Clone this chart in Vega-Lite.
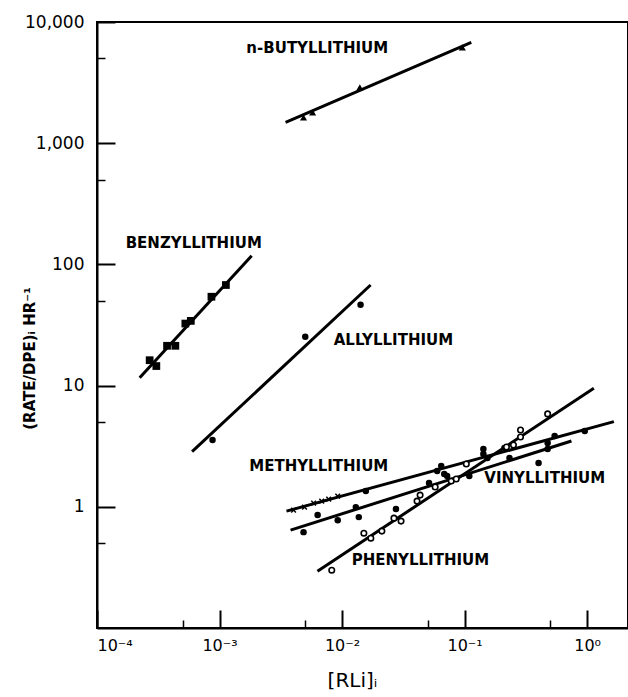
{
  "$schema": "https://vega.github.io/schema/vega-lite/v6.json",
  "width": 531,
  "height": 606,
  "autosize": "none",
  "padding": {"left": 97, "top": 22, "right": 0, "bottom": 69},
  "background": "white",
  "config": {
    "view": {"stroke": "black", "strokeWidth": 2},
    "axis": {"grid": false, "domainColor": "black", "tickColor": "black", "labelColor": "black", "titleColor": "black", "labelFont": "DejaVu Sans", "titleFont": "DejaVu Sans"}
  },
  "resolve": {"scale": {"x": "independent", "y": "independent"}, "axis": {"x": "independent", "y": "independent"}},
  "datasets": {
    "lines": [
      {"series": "butyl", "x": 0.00346, "y": 1486},
      {"series": "butyl", "x": 0.1135, "y": 6795},
      {"series": "benzyl", "x": 0.000223, "y": 11.6},
      {"series": "benzyl", "x": 0.00183, "y": 118},
      {"series": "allyl", "x": 0.000597, "y": 2.85},
      {"series": "allyl", "x": 0.0171, "y": 67.6},
      {"series": "methyl", "x": 0.00352, "y": 0.921},
      {"series": "methyl", "x": 1.654, "y": 5.04},
      {"series": "vinyl", "x": 0.0038, "y": 0.642},
      {"series": "vinyl", "x": 0.745, "y": 3.49},
      {"series": "phenyl", "x": 0.0063, "y": 0.294},
      {"series": "phenyl", "x": 1.135, "y": 9.52}
    ],
    "points": [
      {"series": "butyl", "marker": "triangle", "x": 0.00485, "y": 1630},
      {"series": "butyl", "marker": "triangle", "x": 0.00575, "y": 1795},
      {"series": "butyl", "marker": "triangle", "x": 0.01397, "y": 2885},
      {"series": "butyl", "marker": "triangle", "x": 0.0958, "y": 6180},
      {"series": "benzyl", "marker": "square", "x": 0.000269, "y": 16.2},
      {"series": "benzyl", "marker": "square", "x": 0.000305, "y": 14.5},
      {"series": "benzyl", "marker": "square", "x": 0.000373, "y": 21.3},
      {"series": "benzyl", "marker": "square", "x": 0.000436, "y": 21.3},
      {"series": "benzyl", "marker": "square", "x": 0.000526, "y": 32.5},
      {"series": "benzyl", "marker": "square", "x": 0.000583, "y": 34.2},
      {"series": "benzyl", "marker": "square", "x": 0.000859, "y": 54.1},
      {"series": "benzyl", "marker": "square", "x": 0.001127, "y": 67.6},
      {"series": "allyl", "marker": "dot", "x": 0.000877, "y": 3.56},
      {"series": "allyl", "marker": "dot", "x": 0.00501, "y": 25.3},
      {"series": "allyl", "marker": "dot", "x": 0.01416, "y": 46.5},
      {"series": "methyl", "marker": "cross", "x": 0.00402, "y": 0.939},
      {"series": "methyl", "marker": "cross", "x": 0.00494, "y": 0.994},
      {"series": "methyl", "marker": "cross", "x": 0.00586, "y": 1.073},
      {"series": "methyl", "marker": "cross", "x": 0.00682, "y": 1.115},
      {"series": "methyl", "marker": "cross", "x": 0.00778, "y": 1.158},
      {"series": "methyl", "marker": "cross", "x": 0.00922, "y": 1.226},
      {"series": "methyl", "marker": "dot", "x": 0.01564, "y": 1.348},
      {"series": "methyl", "marker": "dot", "x": 0.05975, "y": 1.973},
      {"series": "methyl", "marker": "dot", "x": 0.0645, "y": 2.17},
      {"series": "methyl", "marker": "dot", "x": 0.06823, "y": 1.863},
      {"series": "methyl", "marker": "dot", "x": 0.1424, "y": 2.999},
      {"series": "methyl", "marker": "dot", "x": 0.1424, "y": 2.726},
      {"series": "methyl", "marker": "dot", "x": 0.1535, "y": 2.526},
      {"series": "methyl", "marker": "dot", "x": 0.2115, "y": 3.055},
      {"series": "methyl", "marker": "dot", "x": 0.4764, "y": 3.36},
      {"series": "methyl", "marker": "dot", "x": 0.5433, "y": 3.84},
      {"series": "methyl", "marker": "dot", "x": 0.957, "y": 4.22},
      {"series": "vinyl", "marker": "dot", "x": 0.00485, "y": 0.618},
      {"series": "vinyl", "marker": "dot", "x": 0.00632, "y": 0.854},
      {"series": "vinyl", "marker": "dot", "x": 0.00922, "y": 0.776},
      {"series": "vinyl", "marker": "dot", "x": 0.01295, "y": 0.994},
      {"series": "vinyl", "marker": "dot", "x": 0.0137, "y": 0.822},
      {"series": "vinyl", "marker": "dot", "x": 0.02754, "y": 0.957},
      {"series": "vinyl", "marker": "dot", "x": 0.05129, "y": 1.57},
      {"series": "vinyl", "marker": "dot", "x": 0.07211, "y": 1.795},
      {"series": "vinyl", "marker": "dot", "x": 0.1093, "y": 1.795},
      {"series": "vinyl", "marker": "dot", "x": 0.2325, "y": 2.526},
      {"series": "vinyl", "marker": "dot", "x": 0.4018, "y": 2.297},
      {"series": "vinyl", "marker": "dot", "x": 0.4764, "y": 2.999},
      {"series": "phenyl", "marker": "open", "x": 0.00824, "y": 0.3},
      {"series": "phenyl", "marker": "open", "x": 0.01507, "y": 0.606},
      {"series": "phenyl", "marker": "open", "x": 0.01718, "y": 0.551},
      {"series": "phenyl", "marker": "open", "x": 0.02114, "y": 0.63},
      {"series": "phenyl", "marker": "open", "x": 0.02652, "y": 0.806},
      {"series": "phenyl", "marker": "open", "x": 0.0303, "y": 0.762},
      {"series": "phenyl", "marker": "open", "x": 0.04093, "y": 1.115},
      {"series": "phenyl", "marker": "open", "x": 0.04335, "y": 1.249},
      {"series": "phenyl", "marker": "open", "x": 0.05754, "y": 1.455},
      {"series": "phenyl", "marker": "open", "x": 0.07782, "y": 1.63},
      {"series": "phenyl", "marker": "open", "x": 0.0855, "y": 1.694},
      {"series": "phenyl", "marker": "open", "x": 0.1033, "y": 2.255},
      {"series": "phenyl", "marker": "open", "x": 0.2198, "y": 3.117},
      {"series": "phenyl", "marker": "open", "x": 0.2506, "y": 3.237},
      {"series": "phenyl", "marker": "open", "x": 0.2862, "y": 3.77},
      {"series": "phenyl", "marker": "open", "x": 0.2862, "y": 4.305},
      {"series": "phenyl", "marker": "open", "x": 0.4764, "y": 5.84}
    ],
    "labels": [
      {"text": "n-BUTYLLITHIUM", "x": 0.001656, "y": 6064},
      {"text": "BENZYLLITHIUM", "x": 0.0001714, "y": 151},
      {"text": "ALLYLLITHIUM", "x": 0.00855, "y": 23.7},
      {"text": "METHYLLITHIUM", "x": 0.00175, "y": 2.17},
      {"text": "VINYLLITHIUM", "x": 0.145, "y": 1.737},
      {"text": "PHENYLLITHIUM", "x": 0.012, "y": 0.3626}
    ]
  },
  "layer": [
    {
      "data": {"name": "lines"},
      "mark": {"type": "line", "color": "black", "strokeWidth": 3},
      "encoding": {
        "x": {
          "field": "x", "type": "quantitative",
          "scale": {"type": "log", "domain": [0.0001, 2.157], "nice": false},
          "axis": {
            "title": "[RLi]ᵢ",
            "titleFontSize": 20, "titleFontWeight": "normal",
            "titleX": 255, "titleY": 52, "titleBaseline": "middle",
            "values": [0.0001, 0.001, 0.01, 0.1, 1],
            "labelExpr": "datum.value < 0.0002 ? '10⁻⁴' : datum.value < 0.002 ? '10⁻³' : datum.value < 0.02 ? '10⁻²' : datum.value < 0.2 ? '10⁻¹' : '10⁰'",
            "labelFontSize": 16, "labelPadding": 9,
            "domainWidth": 2, "ticks": false
          }
        },
        "y": {
          "field": "y", "type": "quantitative",
          "scale": {"type": "log", "domain": [0.1, 10000], "nice": false},
          "axis": {
            "title": "(RATE/DPE)ᵢ  HR⁻¹",
            "titleFontSize": 15, "titleFontWeight": "bold",
            "titleX": -68, "titleY": 336, "titleAngle": -90, "titleBaseline": "middle",
            "values": [1, 10, 100, 1000, 10000],
            "labelExpr": "datum.value == 10000 ? '10,000' : datum.value == 1000 ? '1,000' : datum.value == 100 ? '100' : datum.value == 10 ? '10' : '1'",
            "labelFontSize": 17, "labelPadding": 13,
            "domainWidth": 2, "ticks": false
          }
        },
        "detail": {"field": "series"}
      }
    },
    {
      "data": {"name": "points"},
      "transform": [{"filter": "datum.marker == 'dot'"}],
      "mark": {"type": "point", "shape": "circle", "filled": true, "color": "black", "size": 42, "opacity": 1},
      "encoding": {
        "x": {"field": "x", "type": "quantitative", "scale": {"type": "log", "domain": [0.0001, 2.157], "nice": false},
          "axis": {"orient": "top", "offset": -606, "values": [0.0001, 0.001, 0.01, 0.1, 1], "labels": false, "domain": false, "title": null, "tickSize": 18, "tickWidth": 2}},
        "y": {"field": "y", "type": "quantitative", "scale": {"type": "log", "domain": [0.1, 10000], "nice": false},
          "axis": {"orient": "right", "offset": -531, "values": [1, 10, 100, 1000, 10000], "labels": false, "domain": false, "title": null, "tickSize": 18, "tickWidth": 2}}
      }
    },
    {
      "data": {"name": "points"},
      "transform": [{"filter": "datum.marker == 'square'"}],
      "mark": {"type": "point", "shape": "square", "filled": true, "color": "black", "size": 60, "opacity": 1},
      "encoding": {
        "x": {"field": "x", "type": "quantitative", "scale": {"type": "log", "domain": [0.0001, 2.157], "nice": false},
          "axis": {"orient": "top", "offset": -606, "values": [0.0005, 0.005, 0.05, 0.5], "labels": false, "domain": false, "title": null, "tickSize": 8, "tickWidth": 1.5}},
        "y": {"field": "y", "type": "quantitative", "scale": {"type": "log", "domain": [0.1, 10000], "nice": false},
          "axis": {"orient": "right", "offset": -531, "values": [0.5, 5, 50, 500, 5000], "labels": false, "domain": false, "title": null, "tickSize": 8, "tickWidth": 1.5}}
      }
    },
    {
      "data": {"name": "points"},
      "transform": [{"filter": "datum.marker == 'triangle'"}],
      "mark": {"type": "point", "shape": "triangle-up", "filled": true, "color": "black", "size": 50, "opacity": 1},
      "encoding": {
        "x": {"field": "x", "type": "quantitative", "scale": {"type": "log", "domain": [0.0001, 2.157], "nice": false}, "axis": null},
        "y": {"field": "y", "type": "quantitative", "scale": {"type": "log", "domain": [0.1, 10000], "nice": false}, "axis": null}
      }
    },
    {
      "data": {"name": "points"},
      "transform": [{"filter": "datum.marker == 'open'"}],
      "mark": {"type": "point", "shape": "circle", "filled": true, "fill": "white", "stroke": "black", "strokeWidth": 1.6, "size": 30, "opacity": 1},
      "encoding": {
        "x": {"field": "x", "type": "quantitative", "scale": {"type": "log", "domain": [0.0001, 2.157], "nice": false}, "axis": null},
        "y": {"field": "y", "type": "quantitative", "scale": {"type": "log", "domain": [0.1, 10000], "nice": false}, "axis": null}
      }
    },
    {
      "data": {"name": "points"},
      "transform": [{"filter": "datum.marker == 'cross'"}],
      "mark": {"type": "point", "shape": "M-1,-1L1,1M1,-1L-1,1", "filled": false, "stroke": "black", "strokeWidth": 1.5, "size": 22, "opacity": 1},
      "encoding": {
        "x": {"field": "x", "type": "quantitative", "scale": {"type": "log", "domain": [0.0001, 2.157], "nice": false}, "axis": null},
        "y": {"field": "y", "type": "quantitative", "scale": {"type": "log", "domain": [0.1, 10000], "nice": false}, "axis": null}
      }
    },
    {
      "data": {"name": "labels"},
      "mark": {"type": "text", "align": "left", "baseline": "middle", "font": "DejaVu Sans", "fontWeight": "bold", "fontSize": 15, "color": "black"},
      "encoding": {
        "x": {"field": "x", "type": "quantitative", "scale": {"type": "log", "domain": [0.0001, 2.157], "nice": false}, "axis": null},
        "y": {"field": "y", "type": "quantitative", "scale": {"type": "log", "domain": [0.1, 10000], "nice": false}, "axis": null},
        "text": {"field": "text"}
      }
    }
  ]
}
